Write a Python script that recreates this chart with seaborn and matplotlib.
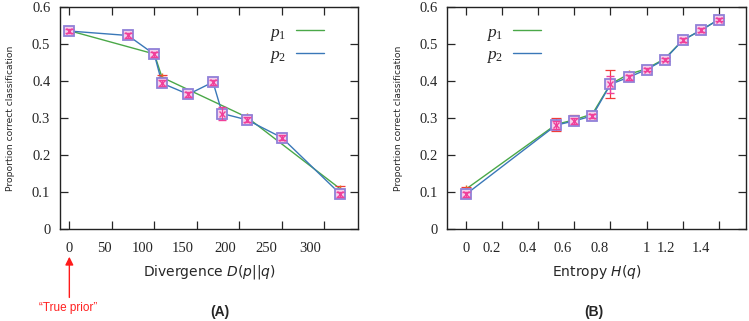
import numpy as np
import pandas as pd
import matplotlib
matplotlib.use("Agg")
import matplotlib.pyplot as plt
import seaborn as sns

# ---- Panel A: accuracy versus divergence from the true prior ----
div_p1 = [0, 100, 109, 209, 319]
acc_div_p1 = [0.536, 0.473, 0.410, 0.302, 0.108]
err_div_p1 = [0.005, 0.006, 0.007, 0.006, 0.007]

div_p2 = [0, 69, 100, 109, 140, 169, 180, 209, 250, 319]
acc_div_p2 = [0.535, 0.523, 0.472, 0.394, 0.364, 0.397, 0.312, 0.295, 0.247, 0.094]
err_div_p2 = [0.006, 0.006, 0.006, 0.008, 0.006, 0.007, 0.018, 0.007, 0.006, 0.007]

# ---- Panel B: accuracy versus entropy of the prior ----
ent = [0.0, 0.5, 0.6, 0.7, 0.8, 0.9, 1.0, 1.1, 1.2, 1.3, 1.4]
acc_ent_p1 = [0.108, 0.283, 0.295, 0.311, 0.392, 0.418, 0.433, 0.460, 0.510, 0.537, 0.566]
err_ent_p1 = [0.006, 0.018, 0.012, 0.008, 0.038, 0.006, 0.005, 0.005, 0.005, 0.005, 0.005]
acc_ent_p2 = [0.094, 0.281, 0.292, 0.306, 0.391, 0.410, 0.431, 0.458, 0.510, 0.537, 0.566]
err_ent_p2 = [0.007, 0.012, 0.008, 0.006, 0.023, 0.007, 0.005, 0.005, 0.005, 0.005, 0.005]

# tick marks and (hand-placed) tick label locations
ticks_a = [0, 50, 100, 150, 200, 250, 300]
labels_a = ["0", "50", "100", "150", "200", "250", "300"]
label_pos_a = [0, 41, 86, 133, 183, 232, 283]
ticks_b = [0, 0.2, 0.4, 0.6, 0.8, 1.0, 1.2, 1.4]
labels_b = ["0", "0.2", "0.4", "0.6", "0.8", "1", "1.2", "1.4"]
label_pos_b = [0, 0.142, 0.341, 0.535, 0.738, 1.0, 1.105, 1.301]
yticks = [0, 0.1, 0.2, 0.3, 0.4, 0.5, 0.6]
ylabels = ["0", "0.1", "0.2", "0.3", "0.4", "0.5", "0.6"]

sns.set_theme(style="ticks")
plt.rcParams.update({
    "font.family": ["DejaVu Sans"],
    "mathtext.fontset": "custom",
    "mathtext.it": "Liberation Serif:italic",
    "mathtext.rm": "Liberation Serif",
    "mathtext.sf": "DejaVu Sans:italic",
    "axes.linewidth": 1.0,
})

GREEN = "#4aa848"
BLUE = "#3a78b8"
RED = "#f03a3a"
PINK = "#f0409a"
PURPLE = "#9080d8"

fig = plt.figure(figsize=(7.49, 3.21), dpi=100)
ax_a = fig.add_axes([0.0801, 0.2866, 0.3983, 0.6916])
ax_b = fig.add_axes([0.5972, 0.2866, 0.3988, 0.6916])

def draw(ax, x1, y1, e1, x2, y2, e2):
    d1 = pd.DataFrame({"x": x1, "y": y1})
    d2 = pd.DataFrame({"x": x2, "y": y2})
    sns.lineplot(data=d1, x="x", y="y", ax=ax, color=GREEN, lw=1.0,
                 label=r"$p_1$", sort=False, zorder=2)
    sns.lineplot(data=d2, x="x", y="y", ax=ax, color=BLUE, lw=1.0,
                 label=r"$p_2$", sort=False, zorder=3)
    ax.errorbar(x1, y1, yerr=e1, fmt="+", color=RED, mfc=RED, mec="#e07020",
                ms=6, elinewidth=0.9, capsize=3.5, capthick=0.9, zorder=4)
    ax.plot(x2, y2, ls="none", marker="s", ms=7, mfc="#f4d0ec", mec=PURPLE,
            mew=1.3, zorder=5)
    ax.errorbar(x2, y2, yerr=e2, fmt="x", color=PINK, ms=4, mew=1.0,
                elinewidth=0.9, capsize=3, capthick=0.9, zorder=6)

def style(ax, ticks, labels, label_pos, xlim):
    ax.set_xlim(*xlim)
    ax.set_ylim(0, 0.6)
    ax.xaxis.remove_overlapping_locs = False
    ax.set_xticks(ticks)
    ax.set_xticklabels([])
    ax.set_xticks(label_pos, minor=True)
    ax.set_xticklabels(labels, minor=True, family="Liberation Serif", fontsize=10.5)
    ax.tick_params(axis="x", which="major", direction="in", length=6, width=0.9,
                   top=True, bottom=True)
    ax.tick_params(axis="x", which="minor", length=0, pad=9, top=False)
    ax.set_yticks(yticks)
    ax.set_yticklabels(ylabels, family="Liberation Serif", fontsize=10.5)
    ax.tick_params(axis="y", direction="in", length=6, width=0.9,
                   left=True, right=True, pad=7)
    ax.set_ylabel("Proportion correct classification", fontsize=6.6, labelpad=12)
    for s in ax.spines.values():
        s.set_visible(True)
        s.set_color("#222222")

draw(ax_a, div_p1, acc_div_p1, err_div_p1, div_p2, acc_div_p2, err_div_p2)
draw(ax_b, ent, acc_ent_p1, err_ent_p1, ent, acc_ent_p2, err_ent_p2)
style(ax_a, ticks_a, labels_a, label_pos_a, (-11, 340))
style(ax_b, ticks_b, labels_b, label_pos_b, (-0.104, 1.551))

ax_a.set_xlabel(r"Divergence $\mathsf{D}$($\mathsf{p}$||$\mathsf{q}$)", fontsize=10, labelpad=6)
ax_b.set_xlabel(r"Entropy $\mathsf{H}$($\mathsf{q}$)", fontsize=10, labelpad=6)

for ax, xa in ((ax_a, 0.70), (ax_b, 0.128)):
    ax.legend(loc="upper left", bbox_to_anchor=(xa, 0.93), frameon=False,
              markerfirst=False, fontsize=12.5, handlelength=1.6,
              handletextpad=0.6, labelspacing=0.15, borderpad=0, borderaxespad=0)

fig.text(220 / 749, 1 - 312 / 321, "(A)", ha="center", va="center",
         family="Liberation Sans", fontweight="bold", fontsize=10)
fig.text(594 / 749, 1 - 312 / 321, "(B)", ha="center", va="center",
         family="Liberation Sans", fontweight="bold", fontsize=10)

# arrow marking the true prior on the divergence axis
ax_a.annotate("", xy=(0, -0.075), xytext=(0, -0.185), xycoords="data",
              annotation_clip=False,
              arrowprops=dict(arrowstyle="-|>", color="#ff1a1a", lw=1.0,
                              mutation_scale=12, shrinkA=0, shrinkB=0))
fig.text(68 / 749, 1 - 308 / 321, "\u201cTrue prior\u201d", ha="center", va="center",
         color="#ff2020", family="Liberation Sans", fontsize=8.5)

fig.savefig("out.png", dpi=100)
